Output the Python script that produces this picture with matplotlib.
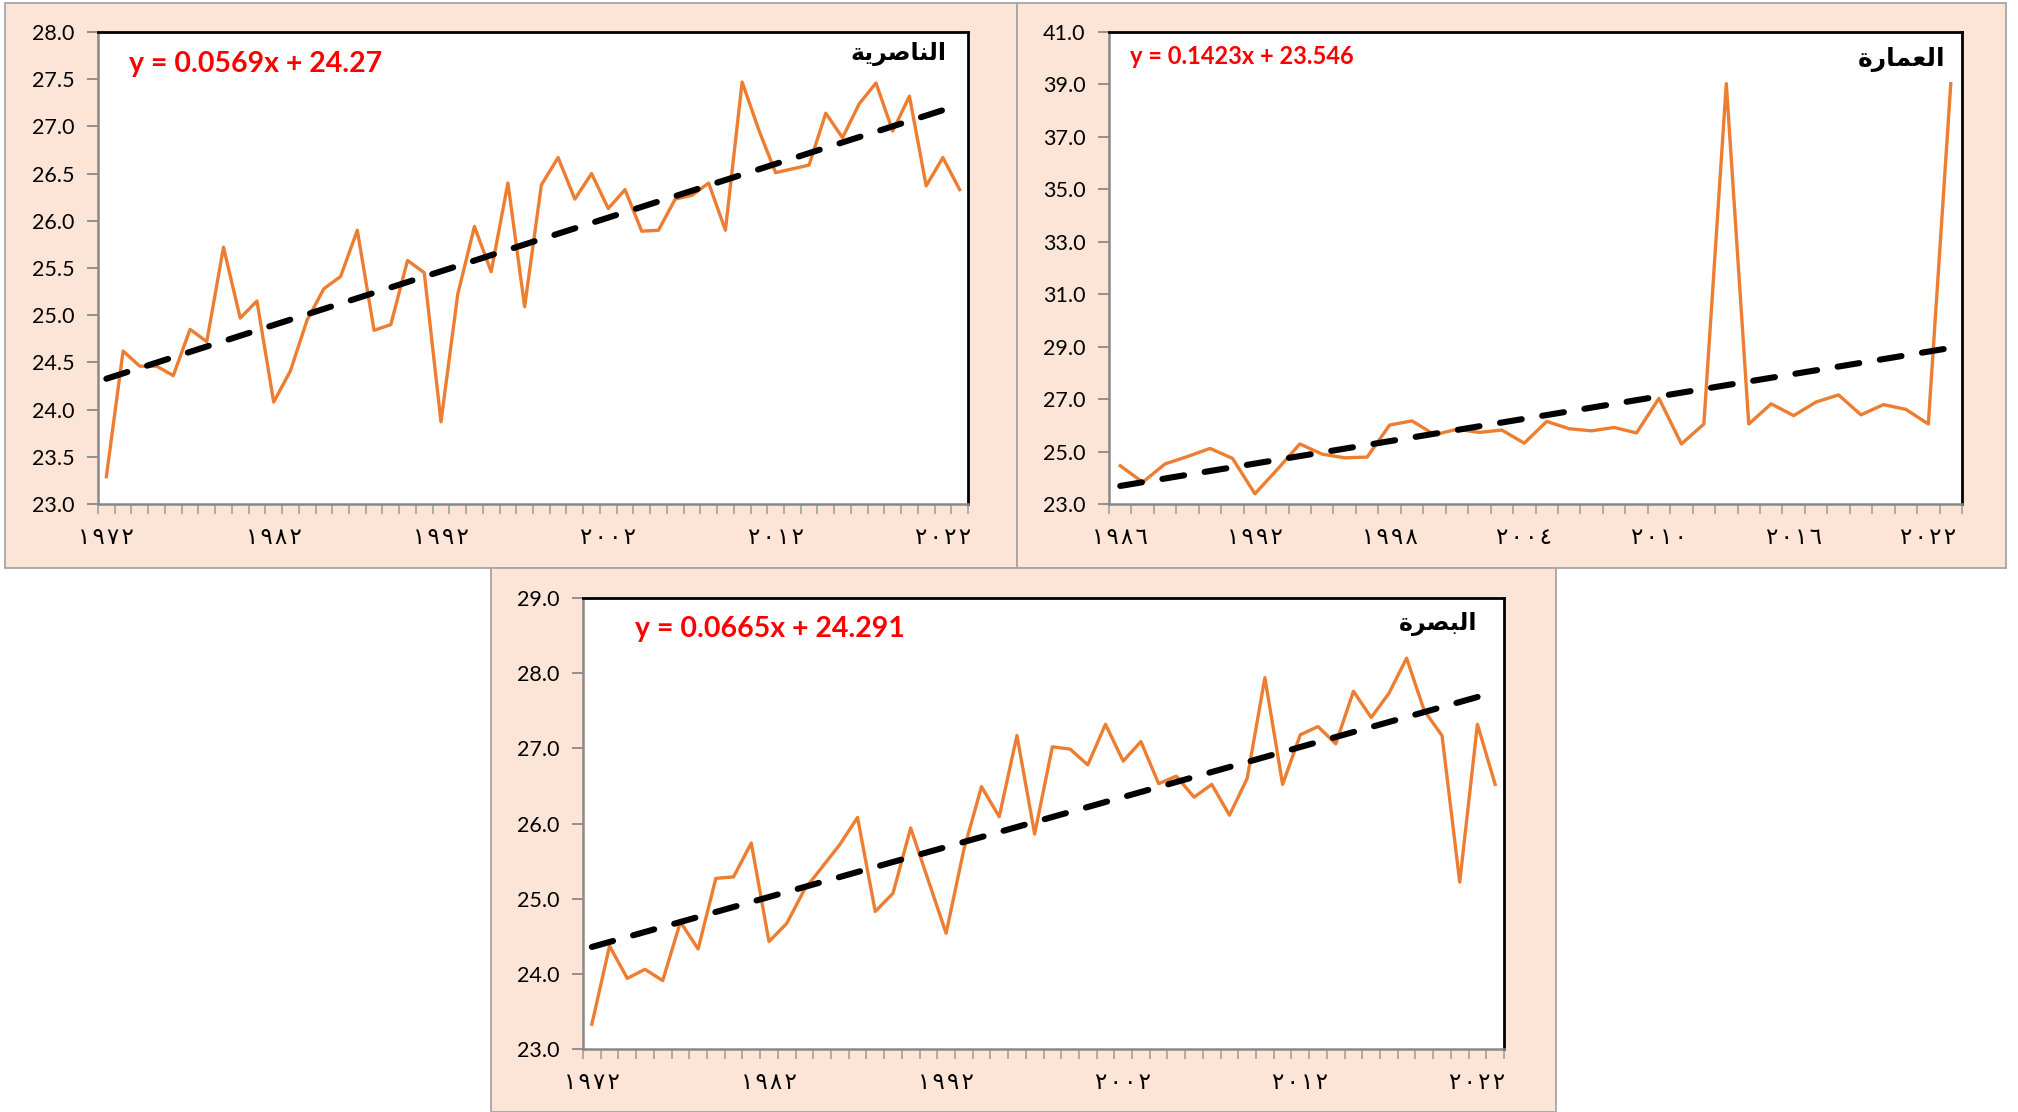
import matplotlib
matplotlib.use("Agg")
import matplotlib.pyplot as plt
from matplotlib.patches import Rectangle
import numpy as np

plt.rcParams['font.family'] = ['Lato', 'DejaVu Sans']

# ---------------- data ----------------
years_nas = list(range(1972, 2024))
nasiriyah = [23.29, 24.62, 24.46, 24.46, 24.36, 24.85, 24.72, 25.72, 24.97, 25.15,
             24.08, 24.41, 24.95, 25.28, 25.41, 25.90, 24.84, 24.90, 25.58, 25.45,
             23.87, 25.22, 25.94, 25.46, 26.40, 25.09, 26.38, 26.67, 26.23, 26.50,
             26.13, 26.33, 25.89, 25.90, 26.23, 26.27, 26.40, 25.90, 27.47, 26.96,
             26.51, 26.55, 26.59, 27.14, 26.88, 27.24, 27.46, 26.95, 27.32, 26.37,
             26.67, 26.33]
nas_trend = (0.0569, 24.27)
nas_label_years = [1972, 1982, 1992, 2002, 2012, 2022]

years_ama = list(range(1986, 2024))
amarah = [24.46, 23.83, 24.53, 24.81, 25.12, 24.74, 23.39, 24.32, 25.29, 24.90,
          24.76, 24.79, 26.01, 26.17, 25.64, 25.85, 25.73, 25.82, 25.32, 26.15,
          25.87, 25.79, 25.92, 25.71, 27.03, 25.29, 26.05, 39.03, 26.05, 26.82,
          26.37, 26.89, 27.16, 26.40, 26.79, 26.61, 26.05, 39.03]
ama_trend = (0.1423, 23.546)
ama_label_years = [1986, 1992, 1998, 2004, 2010, 2016, 2022]

years_bas = list(range(1972, 2024))
basra = [23.33, 24.37, 23.94, 24.06, 23.91, 24.69, 24.33, 25.27, 25.29, 25.74,
         24.43, 24.67, 25.12, 25.42, 25.72, 26.08, 24.83, 25.07, 25.94, 25.24,
         24.54, 25.65, 26.49, 26.09, 27.17, 25.86, 27.02, 26.99, 26.78, 27.32,
         26.83, 27.09, 26.53, 26.63, 26.35, 26.52, 26.11, 26.60, 27.94, 26.52,
         27.18, 27.29, 27.06, 27.76, 27.41, 27.73, 28.20, 27.50, 27.17, 25.22,
         27.32, 26.52]
bas_trend = (0.0665, 24.291)
bas_label_years = [1972, 1982, 1992, 2002, 2012, 2022]

name_nas = "الناصرية"
name_ama = "العمارة"
name_bas = "البصرة"

# ---------------- helpers ----------------
FORMS = {  # isolated, final, initial, medial
    'ا': (0xFE8D, 0xFE8E, None, None),
    'ل': (0xFEDD, 0xFEDE, 0xFEDF, 0xFEE0),
    'ن': (0xFEE5, 0xFEE6, 0xFEE7, 0xFEE8),
    'ص': (0xFEB9, 0xFEBA, 0xFEBB, 0xFEBC),
    'ر': (0xFEAD, 0xFEAE, None, None),
    'ي': (0xFEF1, 0xFEF2, 0xFEF3, 0xFEF4),
    'ة': (0xFE93, 0xFE94, None, None),
    'ع': (0xFEC9, 0xFECA, 0xFECB, 0xFECC),
    'م': (0xFEE1, 0xFEE2, 0xFEE3, 0xFEE4),
    'ب': (0xFE8F, 0xFE90, 0xFE91, 0xFE92),
}


def shape_arabic(s):
    out = []
    n = len(s)
    for i, ch in enumerate(s):
        f = FORMS[ch]
        jp = i > 0 and FORMS[s[i - 1]][2] is not None
        jn = i < n - 1 and f[2] is not None
        if jp and jn:
            code = f[3]
        elif jp:
            code = f[1]
        elif jn:
            code = f[2]
        else:
            code = f[0]
        out.append(chr(code))
    return ''.join(reversed(out))


AR_DIGITS = str.maketrans('0123456789', '٠١٢٣٤٥٦٧٨٩')


def ar_num(y):
    return '\u200A'.join(str(y).translate(AR_DIGITS))


W, H = 2018, 1112
fig = plt.figure(figsize=(W / 100, H / 100), dpi=100)
fig.patch.set_facecolor('white')


def frac_rect(x0, y0, x1, y1):
    return [x0 / W, 1 - y1 / H, (x1 - x0) / W, (y1 - y0) / H]


def panel(x0, y0, x1, y1):
    r = Rectangle((x0 / W, 1 - y1 / H), (x1 - x0) / W, (y1 - y0) / H,
                  transform=fig.transFigure, facecolor='#FCE4D6',
                  edgecolor='#A6A6A6', lw=1.3, zorder=-5)
    fig.add_artist(r)


def draw(box, years, vals, trend, label_years, ylim, ystep,
         eq_text, eq_xy, eq_size, title, title_xy, title_size):
    ax = fig.add_axes(frac_rect(*box))
    ax.set_facecolor('white')
    n = len(years)
    x = np.arange(n)
    ax.plot(x, vals, color='#ED7D31', lw=2.4, zorder=3)
    a, b = trend
    tx = np.array([0, n - 1])
    ty = a * (tx + 1) + b
    ax.plot(tx, ty, color='black', lw=4.4, ls=(0, (3.6, 3.4)),
            dash_capstyle='round', solid_capstyle='round', zorder=4)
    ax.set_xlim(-0.5, n - 0.5)
    ax.set_ylim(*ylim)
    yt = np.arange(ylim[0], ylim[1] + ystep / 2, ystep)
    ax.set_yticks(yt)
    ax.set_yticklabels([f"{v:.1f}" for v in yt], fontsize=15.5)
    ax.tick_params(axis='y', direction='out', length=8, width=1.3,
                   color='#898989', pad=9)
    ax.set_xticks([years.index(y) for y in label_years])
    ax.set_xticklabels([ar_num(y) for y in label_years],
                       family=['DejaVu Sans'], fontsize=16.5)
    ax.set_xticks(np.arange(-0.5, n, 1.0), minor=True)
    ax.tick_params(axis='x', which='major', length=0, pad=16)
    ax.tick_params(axis='x', which='minor', direction='out', length=7,
                   width=1.3, color='#A6A6A6')
    for s in ['left', 'bottom']:
        ax.spines[s].set_color('#898989')
        ax.spines[s].set_linewidth(1.8)
    for s in ['top', 'right']:
        ax.spines[s].set_color('black')
        ax.spines[s].set_linewidth(2.0)
    fig.text(eq_xy[0] / W, 1 - eq_xy[1] / H, eq_text, color='#FF0000',
             fontsize=eq_size, fontweight='bold', ha='left', va='baseline')
    fig.text(title_xy[0] / W, 1 - title_xy[1] / H, shape_arabic(title),
             family=['DejaVu Sans'], fontsize=title_size, fontweight='bold',
             ha='right', va='center', color='black')
    return ax


panel(5, 3, 1017, 568)
panel(1017, 3, 2006, 568)
panel(491, 568, 1556, 1112)

draw((98, 32, 968, 504), years_nas, nasiriyah, nas_trend, nas_label_years,
     (23.0, 28.0), 0.5, "y = 0.0569x + 24.27", (129, 72), 20.5,
     name_nas, (946, 54), 17)
draw((1109, 32, 1962, 504), years_ama, amarah, ama_trend, ama_label_years,
     (23.0, 41.0), 2.0, "y = 0.1423x + 23.546", (1130, 64), 17,
     name_ama, (1945, 59), 18)
draw((583, 598, 1504, 1049), years_bas, basra, bas_trend, bas_label_years,
     (23.0, 29.0), 1.0, "y = 0.0665x + 24.291", (635, 637), 20.5,
     name_bas, (1477, 624), 17)

fig.savefig('out.png', dpi=100, facecolor='white')
